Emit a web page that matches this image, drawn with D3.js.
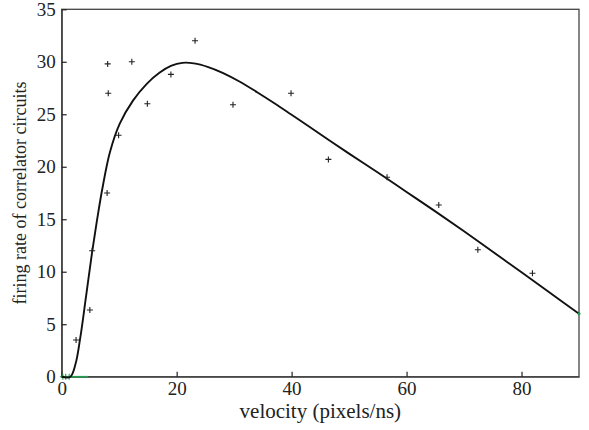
<!DOCTYPE html>
<html>
<head>
<meta charset="utf-8">
<script src="https://cdn.jsdelivr.net/npm/d3@7"></script>
<style>
  body { margin: 0; background: #fff; }
  svg { display: block; }
  text { font-family: "Liberation Serif", "DejaVu Serif", serif; fill: #222; }
</style>
</head>
<body>
<svg width="589" height="430"></svg>
<script>
// measured firing rates
const velocity = [2.5, 4.9, 5.3, 7.9, 8.0, 8.1, 9.9, 12.2, 14.9, 19.0, 23.2, 29.8, 39.9, 46.4, 56.6, 65.6, 72.4, 81.9];
const rate     = [3.5, 6.35, 12.0, 17.5, 29.8, 27.0, 23.0, 30.0, 26.0, 28.8, 32.0, 25.9, 27.0, 20.7, 19.0, 16.35, 12.1, 9.85];

// fitted curve
const fitX = [0, 1.5, 2.4, 3.2, 4.2, 5.3, 6.2, 7.1, 8.4, 10.1, 12.4, 14.8, 17, 19, 21, 23, 25.5, 28, 31, 34, 37, 40, 45, 50, 55, 60, 65, 70, 75, 80, 85, 90];
const fitY = [0, 0, 1.2, 3.6, 7.5, 11.9, 15.1, 18.0, 21.4, 24.1, 26.3, 27.9, 28.95, 29.6, 29.9, 29.85, 29.5, 28.95, 28.1, 27.1, 26.05, 24.95, 23.1, 21.25, 19.45, 17.6, 15.75, 13.85, 11.9, 9.95, 7.98, 6.0];

// green markers near the origin
const zeroX = [0.2, 0.7, 1.3];
const zeroY = [0, 0, 0];
const zeroLine = [0, 4.6];

const xTicks = [0, 20, 40, 60, 80];
const yTicks = [0, 5, 10, 15, 20, 25, 30, 35];

const svg = d3.select('svg');
const margin = {top: 9.3, right: 10, bottom: 53.3, left: 61.7};
const width = 589 - margin.left - margin.right;
const height = 430 - margin.top - margin.bottom;
const green = '#1f9e4f';

const chart = svg.append('g')
    .attr('transform', `translate(${margin.left}, ${margin.top})`);

const xScale = d3.scaleLinear().domain([0, 90]).range([0, width]);
const yScale = d3.scaleLinear().domain([0, 35]).range([height, 0]);

// frame
chart.append('rect')
    .attr('width', width)
    .attr('height', height)
    .attr('fill', 'none')
    .attr('stroke', '#444')
    .attr('stroke-width', 1.3);

const xAxis = chart.append('g')
    .attr('transform', `translate(0, ${height})`)
    .call(d3.axisBottom(xScale).tickValues(xTicks).tickSizeInner(-5).tickSizeOuter(0).tickPadding(5));

const yAxis = chart.append('g')
    .call(d3.axisLeft(yScale).tickValues(yTicks).tickSizeInner(-5).tickSizeOuter(0).tickPadding(6));

[xAxis, yAxis].forEach(a => {
    a.attr('font-family', null).attr('font-size', 19);
    a.select('.domain').attr('stroke', '#444').attr('stroke-width', 1.3);
    a.selectAll('.tick line').attr('stroke', '#222').attr('stroke-width', 1.2);
    a.selectAll('.tick text').attr('fill', '#222');
});

// green zero segment
chart.append('line')
    .attr('x1', xScale(zeroLine[0]))
    .attr('x2', xScale(zeroLine[1]))
    .attr('y1', yScale(0))
    .attr('y2', yScale(0))
    .attr('stroke', green)
    .attr('stroke-width', 1.6);

const plus = (sel, color) => sel
    .attr('d', 'M-3,0H3M0,-3V3')
    .attr('stroke', color)
    .attr('stroke-width', 1.1)
    .attr('fill', 'none');

chart.selectAll('.zero')
    .data(zeroX)
    .enter()
    .append('path')
    .attr('class', 'zero')
    .attr('transform', (d, i) => `translate(${xScale(d)}, ${yScale(zeroY[i])})`)
    .call(plus, green);

// fitted curve
const line = d3.line()
    .x(d => xScale(d[0]))
    .y(d => yScale(d[1]))
    .curve(d3.curveCatmullRom.alpha(0.5));

chart.append('path')
    .datum(fitX.map((x, i) => [x, fitY[i]]))
    .attr('d', line)
    .attr('fill', 'none')
    .attr('stroke', '#111')
    .attr('stroke-width', 1.9);

// data points
chart.selectAll('.pt')
    .data(velocity)
    .enter()
    .append('path')
    .attr('class', 'pt')
    .attr('transform', (d, i) => `translate(${xScale(d)}, ${yScale(rate[i])})`)
    .call(plus, '#222');

// green end dot
chart.append('circle')
    .attr('cx', xScale(fitX[fitX.length - 1]))
    .attr('cy', yScale(fitY[fitY.length - 1]))
    .attr('r', 1.5)
    .attr('fill', green);

svg.append('text')
    .attr('x', margin.left + width / 2)
    .attr('y', 418)
    .attr('text-anchor', 'middle')
    .attr('font-size', 21)
    .text('velocity (pixels/ns)');

svg.append('text')
    .attr('transform', `translate(26, ${margin.top + height / 2}) rotate(-90)`)
    .attr('text-anchor', 'middle')
    .attr('font-size', 18)
    .text('firing rate of correlator circuits');
</script>
</body>
</html>
